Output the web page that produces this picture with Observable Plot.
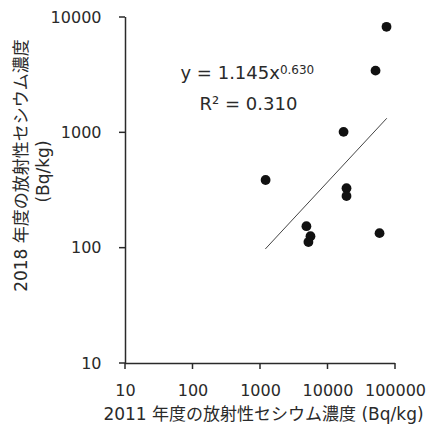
<!DOCTYPE html>
<html>
<head>
<meta charset="utf-8">
<script src="https://cdn.jsdelivr.net/npm/d3@7"></script>
<script src="https://cdn.jsdelivr.net/npm/@observablehq/plot@0.6"></script>
<style>
  html, body { margin: 0; padding: 0; background: #fff; }
  #chart svg { display: block; }
</style>
</head>
<body>
<div id="chart"></div>
<script>
// 2011 concentration (x) vs 2018 concentration (y), Bq/kg
const conc2011 = [73600, 50600, 17000, 1190, 18800, 18800, 4790, 5500, 5130, 58000];
const conc2018 = [8300, 3460, 1020, 390, 331, 283, 155, 127, 113, 135];

// Power-law fit line endpoints
const trendX = [1190, 73600];
const trendY = [99, 1330];

const xTicks = [10, 100, 1000, 10000, 100000];
const yTicks = [10, 100, 1000, 10000];

const eqMain = "y = 1.145x";
const eqExp = "0.630";
const r2Text = "R² = 0.310";
const yTitle1 = "2018 年度の放射性セシウム濃度";
const yTitle2 = "(Bq/kg)";
const xTitle = "2011 年度の放射性セシウム濃度 (Bq/kg)";

const points = conc2011.map((x, i) => ({x, y: conc2018[i]}));
const trend = trendX.map((x, i) => ({x, y: trendY[i]}));

const FONT = "'DejaVu Sans', 'Noto Sans CJK JP', sans-serif";
const INK = "#2a2a2a";

const W = 426, H = 427, ML = 125, MR = 31, MT = 17, MB = 64;

const chart = Plot.plot({
  width: W,
  height: H,
  marginLeft: ML,
  marginRight: MR,
  marginTop: MT,
  marginBottom: MB,
  style: {fontFamily: FONT, background: "#fff", color: INK},
  x: {type: "log", domain: [10, 100000], axis: null},
  y: {type: "log", domain: [10, 10000], axis: null},
  marks: [
    Plot.text(xTicks, {x: d => d, y: 10, dy: 27, text: d => String(d),
      textAnchor: "middle", lineAnchor: "middle", fontSize: 16, fill: INK}),
    Plot.text(yTicks, {x: 10, y: d => d, dx: -24, text: d => String(d),
      textAnchor: "end", lineAnchor: "middle", fontSize: 16, fill: INK}),
    Plot.ruleX([10], {stroke: INK, strokeWidth: 1.5}),
    Plot.ruleY([10], {stroke: INK, strokeWidth: 1.5}),
    Plot.line(trend, {x: "x", y: "y", stroke: "#444", strokeWidth: 1}),
    Plot.dot(points, {x: "x", y: "y", r: 4.9, fill: "#111", stroke: "none"}),
    Plot.text([eqMain], {frameAnchor: "top-left", dx: 180 - ML, dy: 73 - MT, text: d => d,
      textAnchor: "start", lineAnchor: "middle", fontSize: 18, fill: INK}),
    Plot.text([r2Text], {frameAnchor: "top-left", dx: 248 - ML, dy: 104 - MT, text: d => d,
      textAnchor: "middle", lineAnchor: "middle", fontSize: 18, fill: INK}),
    Plot.text([yTitle1], {frameAnchor: "left", dx: 21 - ML, dy: -25, rotate: -90, text: d => d,
      textAnchor: "middle", lineAnchor: "middle", fontSize: 17, fill: INK}),
    Plot.text([yTitle2], {frameAnchor: "left", dx: 43 - ML, dy: -19, rotate: -90, text: d => d,
      textAnchor: "middle", lineAnchor: "middle", fontSize: 17, fill: INK}),
    Plot.text([xTitle], {frameAnchor: "bottom", dx: 3, dy: 51, text: d => d,
      textAnchor: "middle", lineAnchor: "middle", fontSize: 17, fill: INK})
  ]
});
document.getElementById("chart").appendChild(chart);

// outward tick marks, positioned through the chart's own scales
const sx = chart.scale("x"), sy = chart.scale("y");
const svg = d3.select(chart);
const gTicks = svg.append("g").attr("stroke", INK).attr("stroke-width", 1.5);
xTicks.forEach(t => {
  const px = sx.apply(t), py = sy.apply(10);
  gTicks.append("line").attr("x1", px).attr("x2", px).attr("y1", py).attr("y2", py + 6);
});
yTicks.forEach(t => {
  const px = sx.apply(10), py = sy.apply(t);
  gTicks.append("line").attr("x1", px - 6).attr("x2", px).attr("y1", py).attr("y2", py);
});

// superscript exponent appended to the equation text
svg.selectAll("text").each(function() {
  if (this.textContent === eqMain) {
    d3.select(this).append("tspan")
      .attr("dy", "-0.45em")
      .attr("font-size", "12px")
      .text(eqExp);
  }
});
</script>
</body>
</html>
